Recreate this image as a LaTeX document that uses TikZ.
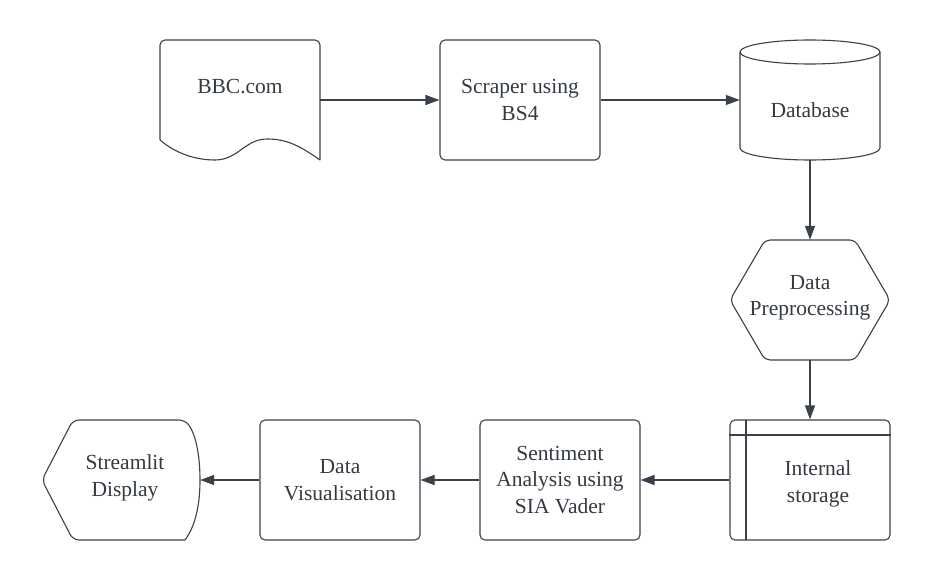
\documentclass[tikz,border=0pt]{standalone}
\usepackage{fontspec}
\setmainfont{Liberation Serif}
\usetikzlibrary{arrows.meta}
\definecolor{ink}{HTML}{3A414A}
\definecolor{txtc}{HTML}{333A42}
\begin{document}
\begin{tikzpicture}[x=1pt,y=-1pt,
  frame/.style={draw=none,inner sep=0pt,minimum width=160pt,minimum height=120pt},
  boxed/.style={draw=ink,line width=1.1pt,rounded corners=5pt,inner sep=0pt,minimum width=160pt,minimum height=120pt,
     font=\fontsize{21.5}{26.5}\selectfont,text=txtc,align=center},
  txt/.style={font=\fontsize{21.5}{26.5}\selectfont,text=txtc,align=center,inner sep=0pt},
  outline/.style={draw=ink,line width=1.1pt,line join=round},
  arr/.style={draw=ink,line width=1.1pt,-{Triangle[length=14pt,width=10pt]}}]
\useasboundingbox (0,0) rectangle (930,580);
% frames for connectors
\node[frame] (bbc) at (240,100) {};
\node[boxed] (scr) at (520,100) {Scraper using\\BS4};
\node[frame,minimum width=140pt] (db) at (810,100) {};
\node[frame] (hex) at (810,300) {};
\node[boxed] (ist) at (810,480) {};
\node[boxed] (sent) at (560,480) {Sentiment\\Analysis using\\SIA Vader};
\node[boxed] (dv) at (340,480) {Data\\Visualisation};
\node[frame,minimum width=158pt] (sl) at (121,480) {};
% document
\draw[outline] (160,140) [rounded corners=5pt] -- (160,40) -- (320,40) [sharp corners] -- (320,160)
  .. controls (300,146) and (287,139) .. (267,139)
  .. controls (245,139) and (238,160) .. (215,160)
  .. controls (195,160) and (175,153) .. (160,140);
\node[txt] (bbct) at (240,87) {BBC.com};
% database
\draw[outline] (740,52) -- (740,148) arc[start angle=180,end angle=360,x radius=70pt,y radius=12pt] -- (880,52);
\draw[outline] (810,52) ellipse[x radius=70pt,y radius=12pt];
\node[txt] (dbt) at (810,110) {Database};
% hexagon
\draw[outline,rounded corners=5pt] (765,240) -- (855,240) -- (890,300) -- (855,360) -- (765,360) -- (730,300) -- cycle;
\node[txt] (hext) at (810,298) {Data\\Preprocessing};
% internal storage lines
\draw[outline] (ist.west |- 0,435) -- (ist.east |- 0,435);
\draw[outline] (746,420) -- (746,540);
\node[txt] (istt) at (818,484) {Internal\\storage};
% display
\draw[outline] (185,420) .. controls (197,436) and (200,460) .. (200,480)
  .. controls (200,500) and (197,524) .. (185,540)
  [rounded corners=6pt] -- (73,540) -- (42,480) -- (73,420) -- cycle;
\node[txt] (slt) at (125,478) {Streamlit\\Display};
% connectors
\draw[arr] (bbc.east) -- (scr.west);
\draw[arr] (scr.east) -- (db.west);
\draw[arr] (db.south) -- (hex.north);
\draw[arr] (hex.south) -- (ist.north);
\draw[arr] (ist.west) -- (sent.east);
\draw[arr] (sent.west) -- (dv.east);
\draw[arr] (dv.west) -- (sl.east);
\end{tikzpicture}
\end{document}
